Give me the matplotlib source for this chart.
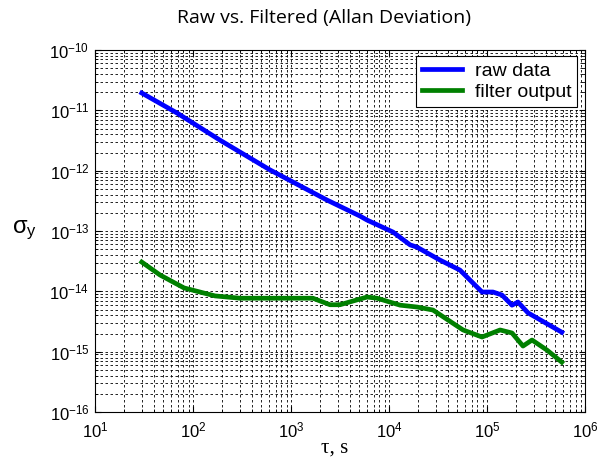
import numpy as np
import matplotlib
matplotlib.use('Agg')
import matplotlib.pyplot as plt
from matplotlib.ticker import LogLocator, FuncFormatter

plt.rcParams['font.family'] = ['Liberation Sans', 'DejaVu Sans']
plt.rcParams['mathtext.fontset'] = 'custom'
plt.rcParams['mathtext.rm'] = 'Liberation Sans'
plt.rcParams['mathtext.it'] = 'Liberation Sans'
plt.rcParams['axes.unicode_minus'] = False

# Allan deviation
tau_raw = [30, 69, 189, 611, 2330, 5060, 5970, 11000, 16400, 19300, 33100, 53000,
           67000, 89000, 115000, 142000, 180000, 207000, 262000, 580000]
adev_raw = [1.94e-11, 9.0e-12, 3.2e-12, 1.03e-12, 3.26e-13, 1.77e-13, 1.52e-13, 9.6e-14,
            5.9e-14, 5.4e-14, 3.3e-14, 2.25e-14, 1.54e-14, 9.75e-15, 9.75e-15, 8.7e-15,
            5.9e-15, 6.65e-15, 4.4e-15, 2.1e-15]

tau_filt = [30, 46, 81, 168, 302, 611, 1670, 2500, 3160, 5970, 7550, 13000,
            19300, 28100, 57000, 89000, 136000, 180000, 233000, 288000, 410000, 580000]
adev_filt = [3.06e-14, 1.87e-14, 1.14e-14, 8.4e-15, 7.7e-15, 7.7e-15, 7.7e-15, 6.0e-15,
             6.0e-15, 8.05e-15, 7.7e-15, 5.9e-15, 5.5e-15, 4.9e-15, 2.29e-15, 1.75e-15,
             2.29e-15, 2.04e-15, 1.24e-15, 1.56e-15, 1.06e-15, 6.7e-16]

fig = plt.figure(figsize=(5.97, 4.62), dpi=100)
ax = fig.add_axes([0.1591, 0.1082, 0.8208, 0.7835])

ax.loglog(tau_raw, adev_raw, color=(0, 0, 1), lw=3.4, label='raw data')
ax.loglog(tau_filt, adev_filt, color=(0, 0.5, 0), lw=3.4, label='filter output')

ax.set_xlim(1e1, 1e6)
ax.set_ylim(1e-16, 1e-10)

for axis in (ax.xaxis, ax.yaxis):
    axis.set_major_locator(LogLocator(base=10, numticks=20))
    axis.set_minor_locator(LogLocator(base=10, subs=np.arange(2, 10), numticks=20))
    axis.set_major_formatter(FuncFormatter(lambda v, p: r'$\mathregular{10^{%d}}$' % round(np.log10(v))))

ax.tick_params(which='both', direction='in', top=True, right=True, labelsize=12, color='black')
ax.tick_params(which='major', length=4)
ax.tick_params(which='minor', length=2)
ax.tick_params(axis='x', pad=6)
ax.tick_params(axis='y', pad=4)
ax.grid(True, which='both', color='black', ls=(0, (3, 3)), lw=0.6)

for s in ax.spines.values():
    s.set_linewidth(0.8)

fig.text(324 / 597, 1 - 18 / 462, 'Raw vs. Filtered (Allan Deviation)', fontname='Open Sans',
         fontsize=14, ha='center', va='center')
ax.set_xlabel('τ, s', fontname='Liberation Serif', fontsize=15, va='center')
ax.xaxis.set_label_coords(0.49, -0.099)
ax.set_ylabel(r'σ$_{\mathregular{y}}$', fontsize=17, rotation=0, va='center', ha='center')
ax.yaxis.set_label_coords(-0.143, 0.503)

leg = ax.legend(loc='upper right', bbox_to_anchor=(0.9837, 0.983), borderaxespad=0,
                fancybox=False, framealpha=1, edgecolor='black', handlelength=2.05,
                handletextpad=0.67, labelspacing=0.2, borderpad=0.3,
                prop={'family': 'Liberation Sans', 'size': 14})
leg.get_frame().set_linewidth(0.8)

fig.savefig('out.png', dpi=100)
